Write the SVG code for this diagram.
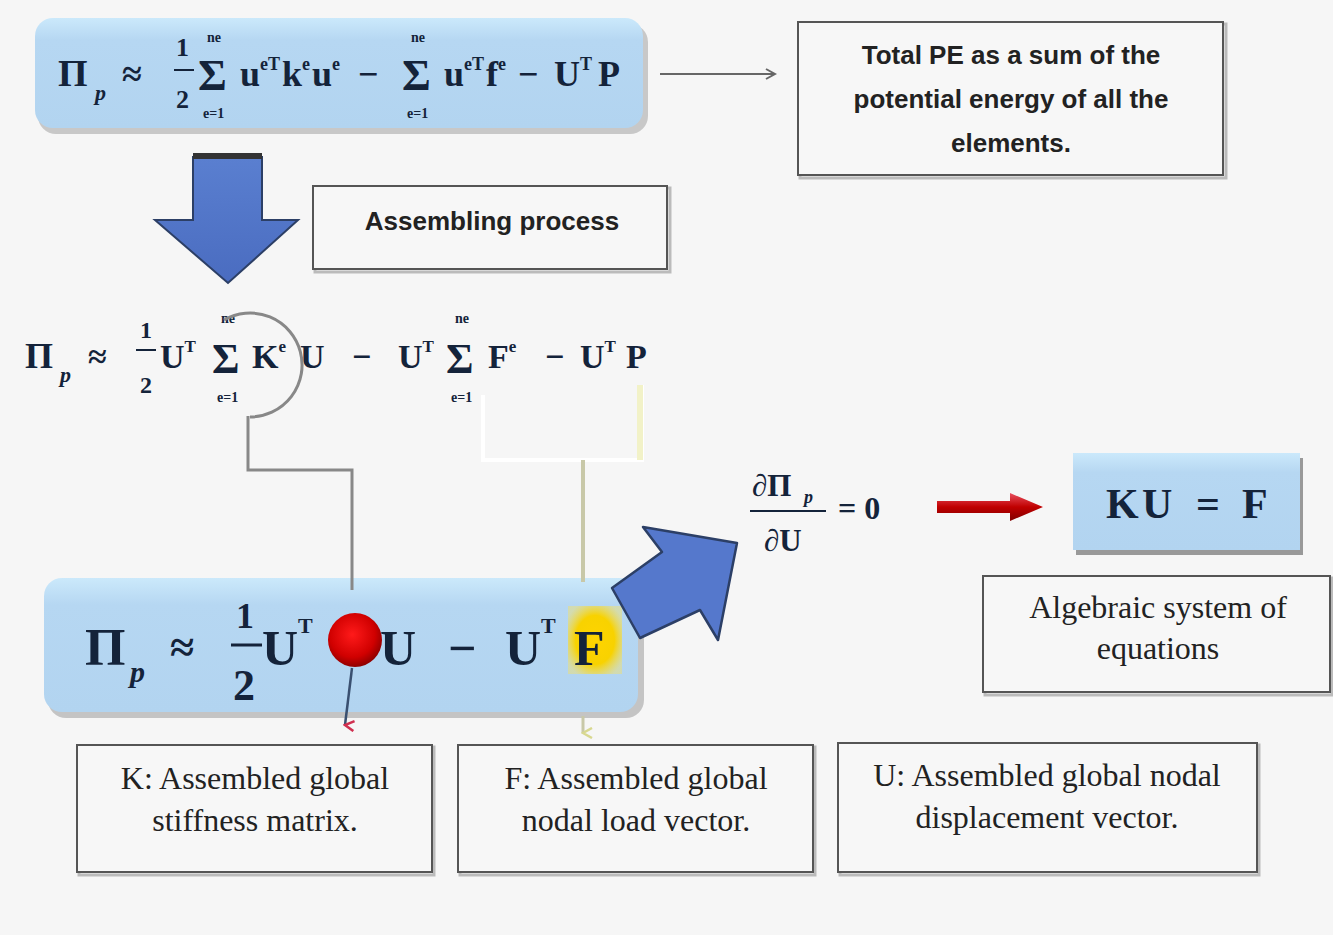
<svg xmlns="http://www.w3.org/2000/svg" width="1333" height="935" viewBox="0 0 1333 935">
<defs>
<style>
.eq{font-family:"Liberation Serif","Times New Roman",serif;font-weight:bold;fill:#14233a}
.lim{font-family:"Liberation Serif",serif;font-weight:bold;font-size:14px;fill:#14233a}
.sans{font-family:"Liberation Sans",Arial,sans-serif;font-weight:bold;fill:#222;font-size:26px;text-anchor:middle}
.ser{font-family:"Liberation Serif","Times New Roman",serif;fill:#222;font-size:32px;text-anchor:middle}
.box{fill:#f7f7f7;stroke:#555;stroke-width:2}
.boxsh{fill:none;stroke:#bbb;stroke-width:3}
.conn{fill:none;stroke:#888;stroke-width:3}
</style>
<linearGradient id="blue" x1="0" y1="0" x2="0" y2="1">
<stop offset="0" stop-color="#cbe9fb"/><stop offset="0.2" stop-color="#b6d7f2"/><stop offset="1" stop-color="#b2d4f0"/>
</linearGradient>
<linearGradient id="arrowgrad" x1="0" y1="0" x2="0" y2="1">
<stop offset="0" stop-color="#5a7fd0"/><stop offset="1" stop-color="#4a6cc0"/>
</linearGradient>
<radialGradient id="ball" cx="0.45" cy="0.4" r="0.6">
<stop offset="0" stop-color="#ff1a1a"/><stop offset="0.7" stop-color="#d00000"/><stop offset="1" stop-color="#900000"/>
</radialGradient>
<radialGradient id="gold" cx="0.5" cy="0.5" r="0.6">
<stop offset="0" stop-color="#ffd400"/><stop offset="0.6" stop-color="#f8d200"/><stop offset="1" stop-color="#f0e070" stop-opacity="0.5"/>
</radialGradient>
<linearGradient id="redarr" x1="0" y1="0" x2="0" y2="1">
<stop offset="0" stop-color="#e85060"/><stop offset="0.5" stop-color="#c00000"/><stop offset="1" stop-color="#800000"/>
</linearGradient>
<marker id="open" markerWidth="12" markerHeight="12" refX="10" refY="6" orient="auto" markerUnits="userSpaceOnUse">
<path d="M1,1 L10,6 L1,11" fill="none" stroke="#666" stroke-width="2"/>
</marker>
<marker id="redhead" markerWidth="12" markerHeight="12" refX="6" refY="10" orient="auto" markerUnits="userSpaceOnUse">
<path d="M1,1 L6,10 L11,1" fill="none" stroke="#d03050" stroke-width="2.5"/>
</marker>
<marker id="yelhead" markerWidth="12" markerHeight="12" refX="6" refY="10" orient="auto" markerUnits="userSpaceOnUse">
<path d="M1,1 L6,10 L11,1" fill="none" stroke="#d8d890" stroke-width="2.5"/>
</marker>
</defs>
<rect width="1333" height="935" fill="#f6f6f6"/>

<g id="top-equation">
<rect x="38" y="24" width="610" height="110" rx="18" fill="#c8c8c8"/>
<rect x="35" y="18" width="608" height="110" rx="18" fill="url(#blue)"/>
<text class="eq" font-size="38" x="58" y="86">Π</text>
<text class="eq" font-size="22" font-style="italic" x="95" y="100">p</text>
<text class="eq" font-size="36" x="122" y="86">≈</text>
<text class="eq" font-size="26" x="176" y="56">1</text>
<line x1="174" y1="70" x2="194" y2="70" stroke="#14233a" stroke-width="2"/>
<text class="eq" font-size="26" x="176" y="108">2</text>
<text class="eq" font-size="44" x="198" y="90">Σ</text>
<text class="lim" x="207" y="42">ne</text>
<text class="lim" x="203" y="118">e=1</text>
<text class="eq" font-size="36" y="86"><tspan x="240">u</tspan><tspan font-size="18" dy="-16">eT</tspan><tspan x="282" dy="16">k</tspan><tspan font-size="18" dy="-16">e</tspan><tspan x="312" dy="16">u</tspan><tspan font-size="18" dy="-16">e</tspan><tspan x="358" dy="16">−</tspan></text>
<text class="eq" font-size="44" x="402" y="90">Σ</text>
<text class="lim" x="411" y="42">ne</text>
<text class="lim" x="407" y="118">e=1</text>
<text class="eq" font-size="36" y="86"><tspan x="444">u</tspan><tspan font-size="18" dy="-16">eT</tspan><tspan x="486" dy="16">f</tspan><tspan font-size="18" dy="-16">e</tspan><tspan x="518" dy="16">−</tspan><tspan x="554">U</tspan><tspan font-size="18" dy="-16">T</tspan><tspan x="598" dy="16">P</tspan></text>
</g>

<g id="total-pe">
<rect class="boxsh" x="800" y="24" width="426" height="154"/>
<rect class="box" x="798" y="22" width="425" height="153"/>
<text class="sans" x="1011" y="64">Total PE as a sum of the</text>
<text class="sans" x="1011" y="108">potential energy of all the</text>
<text class="sans" x="1011" y="152">elements.</text>
</g>

<g id="down-arrow">
<path d="M193,157 H262 V220 H298 L228,283 L155,220 H193 Z" fill="url(#arrowgrad)" stroke="#2c3f66" stroke-width="2"/>
<rect x="193" y="153" width="69" height="6" fill="#333"/>
</g>

<g id="assembling">
<rect class="boxsh" x="315" y="188" width="355" height="84"/>
<rect class="box" x="313" y="186" width="354" height="83"/>
<text class="sans" x="492" y="230" font-size="27">Assembling process</text>
</g>

<g id="mid-equation">
<text class="eq" font-size="36" x="25" y="368">Π</text>
<text class="eq" font-size="22" font-style="italic" x="60" y="382">p</text>
<text class="eq" font-size="34" x="88" y="368">≈</text>
<text class="eq" font-size="24" x="140" y="338">1</text>
<line x1="136" y1="350" x2="156" y2="350" stroke="#14233a" stroke-width="2"/>
<text class="eq" font-size="24" x="140" y="393">2</text>
<text class="eq" font-size="34" y="368"><tspan x="160">U</tspan><tspan font-size="17" dy="-16">T</tspan></text>
<text class="eq" font-size="42" x="212" y="373">Σ</text>
<text class="lim" x="221" y="323" font-size="13">ne</text>
<text class="lim" x="217" y="402" font-size="13">e=1</text>
<text class="eq" font-size="34" y="368"><tspan x="252">K</tspan><tspan font-size="17" dy="-16">e</tspan><tspan x="300" dy="16">U</tspan><tspan x="352">−</tspan><tspan x="398">U</tspan><tspan font-size="17" dy="-16">T</tspan></text>
<text class="eq" font-size="42" x="446" y="373">Σ</text>
<text class="lim" x="455" y="323" font-size="13">ne</text>
<text class="lim" x="451" y="402" font-size="13">e=1</text>
<text class="eq" font-size="34" y="368"><tspan x="488">F</tspan><tspan font-size="17" dy="-16">e</tspan><tspan x="545" dy="16">−</tspan><tspan x="580">U</tspan><tspan font-size="17" dy="-16">T</tspan><tspan x="626" dy="16">P</tspan></text>
</g>

<g id="bottom-equation">
<rect x="48" y="586" width="596" height="132" rx="18" fill="#c4c4c4"/>
<rect x="44" y="578" width="594" height="134" rx="18" fill="url(#blue)"/>
<rect x="568" y="606" width="54" height="68" fill="url(#gold)"/>
<text class="eq" font-size="52" x="85" y="665">Π</text>
<text class="eq" font-size="30" font-style="italic" x="130" y="682">p</text>
<text class="eq" font-size="44" x="170" y="662">≈</text>
<text class="eq" font-size="36" x="236" y="628">1</text>
<line x1="231" y1="645" x2="262" y2="645" stroke="#14233a" stroke-width="3"/>
<text class="eq" font-size="44" x="233" y="700">2</text>
<text class="eq" font-size="50" y="665"><tspan x="262">U</tspan><tspan font-size="22" dy="-32">T</tspan><tspan x="380" dy="32">U</tspan><tspan x="448">−</tspan><tspan x="505">U</tspan><tspan font-size="22" dy="-32">T</tspan><tspan x="574" dy="32">F</tspan></text>
<circle cx="355" cy="640" r="27" fill="url(#ball)"/>
</g>

<g id="diag-arrow">
<path d="M737,543 L718,640 L700,610 L640,638 L612,588 L662,552 L643,527 Z" fill="#5578cc" stroke="#2c3f66" stroke-width="2.5" stroke-linejoin="round"/>
</g>

<g id="derivative">
<text class="eq" font-size="31" font-weight="normal" x="752" y="496">∂Π</text>
<text class="eq" font-size="18" font-style="italic" x="804" y="503">p</text>
<line x1="750" y1="511" x2="826" y2="511" stroke="#14233a" stroke-width="2"/>
<text class="eq" font-size="31" font-weight="normal" x="764" y="551">∂U</text>
<text class="eq" font-size="32" font-weight="normal" x="838" y="519">= 0</text>
</g>

<g id="red-arrow">
<path d="M937,501 H1010 V493 L1043,507 L1010,521 V513 H937 Z" fill="url(#redarr)"/>
</g>

<g id="ku-f">
<rect x="1076" y="458" width="227" height="97" fill="#999"/>
<rect x="1073" y="453" width="227" height="97" fill="url(#blue)"/>
<text class="eq" font-size="42" y="518"><tspan x="1106">K</tspan><tspan x="1142">U</tspan><tspan x="1196">=</tspan><tspan x="1242">F</tspan></text>
</g>

<g id="algebraic">
<rect class="boxsh" x="985" y="578" width="347" height="117"/>
<rect class="box" x="983" y="576" width="347" height="116"/>
<text class="ser" x="1158" y="618">Algebraic system of</text>
<text class="ser" x="1158" y="659">equations</text>
</g>

<g id="k-box">
<rect class="boxsh" x="79" y="747" width="355" height="128"/>
<rect class="box" x="77" y="745" width="355" height="127"/>
<text class="ser" x="255" y="789">K: Assembled global</text>
<text class="ser" x="255" y="831">stiffness matrix.</text>
</g>

<g id="f-box">
<rect class="boxsh" x="460" y="747" width="355" height="128"/>
<rect class="box" x="458" y="745" width="355" height="127"/>
<text class="ser" x="636" y="789">F: Assembled global</text>
<text class="ser" x="636" y="831">nodal load  vector.</text>
</g>

<g id="u-box">
<rect class="boxsh" x="840" y="745" width="419" height="130"/>
<rect class="box" x="838" y="743" width="419" height="129"/>
<text class="ser" x="1047" y="786">U: Assembled global nodal</text>
<text class="ser" x="1047" y="828">displacement  vector.</text>
</g>

<g id="connectors">
<line x1="660" y1="74" x2="775" y2="74" stroke="#666" stroke-width="2" marker-end="url(#open)"/>
<path class="conn" d="M224,320 A52,52 0 1 1 250,417"/>
<path class="conn" d="M248,416 V470 H352 V590"/>
<path d="M352,668 L345,725" fill="none" stroke="#3a5070" stroke-width="2.5" marker-end="url(#redhead)"/>
<path d="M483,395 V460 H642 V385" fill="none" stroke="#ffffff" stroke-width="4"/>
<path d="M640,385 V460" fill="none" stroke="#f2f2c8" stroke-width="6"/>
<path d="M583,460 V582" fill="none" stroke="#c8c8a8" stroke-width="4"/>
<path d="M583,716 V733" fill="none" stroke="#c8c8a8" stroke-width="3" marker-end="url(#yelhead)"/>
</g>
</svg>
